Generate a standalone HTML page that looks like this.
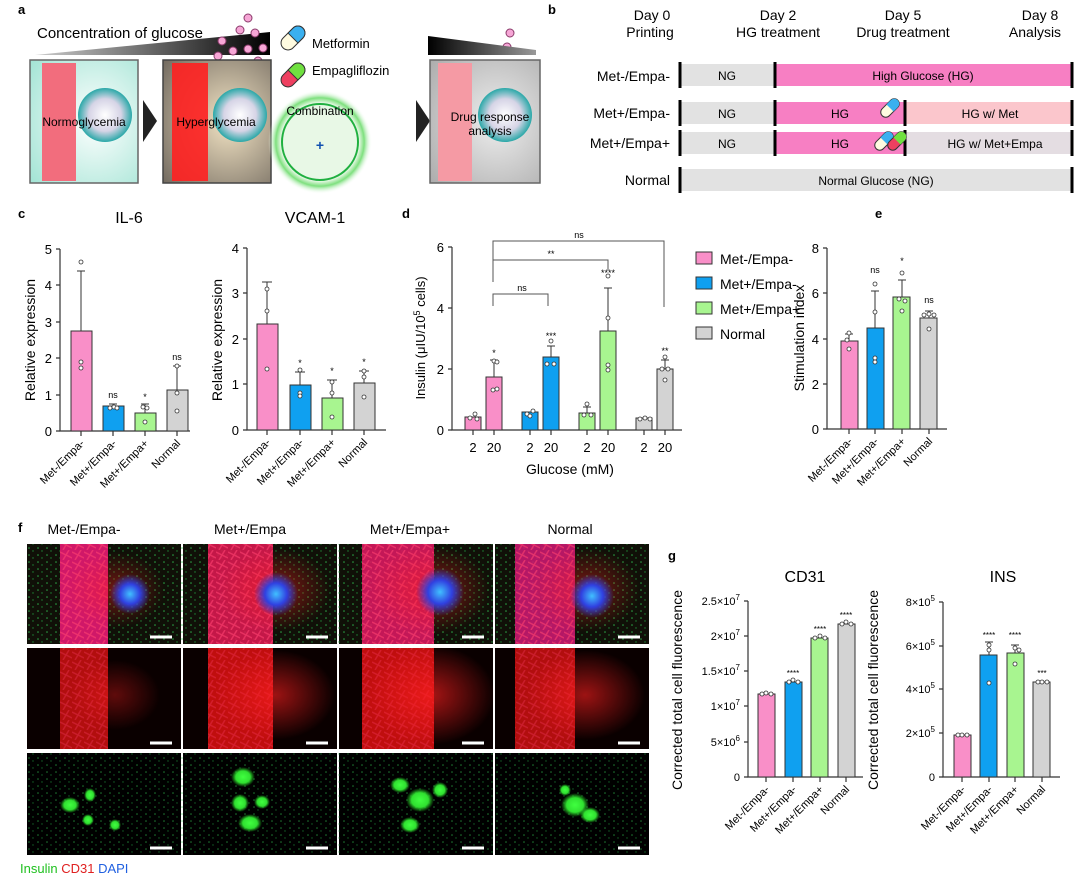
<!DOCTYPE html>
<html><head><meta charset="utf-8"><style>body{margin:0;background:#fff}svg{display:block;font-family:"Liberation Sans",Arial,sans-serif}</style></head><body>
<svg width="1080" height="885" viewBox="0 0 1080 885" xmlns="http://www.w3.org/2000/svg">
<defs>
<linearGradient id="wedge" x1="0" x2="1"><stop offset="0" stop-color="#ccc"/><stop offset="1" stop-color="#000"/></linearGradient>
<linearGradient id="wedgeR" x1="0" x2="1"><stop offset="0" stop-color="#000"/><stop offset="1" stop-color="#999"/></linearGradient>
<radialGradient id="teal" cx="0.6" cy="0.5" r="0.8"><stop offset="0" stop-color="#fff"/><stop offset="1" stop-color="#9fe3d3"/></radialGradient>
<radialGradient id="hyp" cx="0.6" cy="0.5" r="0.8"><stop offset="0" stop-color="#f3e4c4"/><stop offset="1" stop-color="#6e665c"/></radialGradient>
<radialGradient id="gray" cx="0.6" cy="0.5" r="0.8"><stop offset="0" stop-color="#eee"/><stop offset="1" stop-color="#aaa"/></radialGradient>
<radialGradient id="glow"><stop offset="0.75" stop-color="#e8f8e6"/><stop offset="0.85" stop-color="#7ee07e"/><stop offset="1" stop-color="#fff" stop-opacity="0"/></radialGradient>
<radialGradient id="islet"><stop offset="0" stop-color="#fff"/><stop offset="0.6" stop-color="#d6d4e6"/><stop offset="1" stop-color="#2aa8a8"/></radialGradient>
<radialGradient id="blueb"><stop offset="0" stop-color="#40c0ff"/><stop offset="0.5" stop-color="#3040e0"/><stop offset="1" stop-color="#3040d0" stop-opacity="0"/></radialGradient>
<radialGradient id="redb"><stop offset="0" stop-color="#ff2020"/><stop offset="1" stop-color="#ff2020" stop-opacity="0"/></radialGradient>
<radialGradient id="greenb"><stop offset="0" stop-color="#40ff40"/><stop offset="0.6" stop-color="#30e030"/><stop offset="1" stop-color="#20c020" stop-opacity="0"/></radialGradient>
<pattern id="gdots" width="9" height="7" patternUnits="userSpaceOnUse"><circle cx="2" cy="2" r="0.8" fill="#3c5"/><circle cx="6" cy="5" r="0.7" fill="#2a4"/></pattern>
<pattern id="rtex" width="12" height="10" patternUnits="userSpaceOnUse"><path d="M0,2 L12,8 M3,10 L9,0" stroke="#ff4070" stroke-width="1.5" opacity="0.6"/></pattern>
</defs>

<!-- Panel a -->
<text x="18" y="14" font-size="13" font-weight="bold">a</text>
<polygon points="35,55 270,32 270,55" fill="url(#wedge)"/>
<text x="37" y="38" font-size="15">Concentration of glucose</text>
<g fill="#f6a6d6" stroke="#8a3a6a" stroke-width="1">
<circle cx="248" cy="18" r="4"/><circle cx="240" cy="30" r="4"/><circle cx="255" cy="33" r="4"/><circle cx="222" cy="41" r="4"/><circle cx="233" cy="51" r="4"/><circle cx="248" cy="49" r="4"/><circle cx="218" cy="56" r="4"/><circle cx="263" cy="48" r="4"/><circle cx="258" cy="61" r="4"/>
<circle cx="510" cy="33" r="4"/><circle cx="507" cy="47" r="4"/>
</g>
<rect x="30" y="60" width="108" height="123" fill="url(#teal)" stroke="#666" stroke-width="1.5"/>
<rect x="42" y="63" width="34" height="118" fill="#f26d7d"/>
<circle cx="105" cy="115" r="27" fill="url(#islet)"/>
<text x="84" y="126" font-size="12" text-anchor="middle">Normoglycemia</text>
<polygon points="143,100 157,121 143,142" fill="#222"/>
<rect x="163" y="60" width="108" height="123" fill="url(#hyp)" stroke="#444" stroke-width="1.5"/>
<rect x="172" y="63" width="36" height="118" fill="#ff2020" opacity="0.9"/>
<circle cx="240" cy="115" r="27" fill="url(#islet)"/>
<text x="216" y="126" font-size="12" text-anchor="middle">Hyperglycemia</text>
<g transform="translate(293,38) rotate(-45)"><rect x="-14" y="-7" width="28" height="14" rx="7" fill="#fffbe0" stroke="#333"/><path d="M0,-7 H7 A7,7 0 0 1 7,7 H0Z" fill="#3ab0f0" stroke="#333"/></g>
<text x="312" y="48" font-size="13">Metformin</text>
<g transform="translate(293,75) rotate(-45)"><rect x="-14" y="-7" width="28" height="14" rx="7" fill="#ee4060" stroke="#333"/><path d="M0,-7 H7 A7,7 0 0 1 7,7 H0Z" fill="#70e040" stroke="#333"/></g>
<text x="312" y="75" font-size="13">Empagliflozin</text>
<circle cx="320" cy="142" r="52" fill="url(#glow)"/>
<circle cx="320" cy="142" r="38" fill="#e8f8e6" stroke="#20b040" stroke-width="2"/>
<text x="320" y="115" font-size="12" text-anchor="middle">Combination</text>
<text x="320" y="150" font-size="14" fill="#1050b0" text-anchor="middle" font-weight="bold">+</text>
<polygon points="416,100 430,121 416,142" fill="#222"/>
<polygon points="428,36 536,50 536,55 428,55" fill="url(#wedgeR)"/>
<rect x="430" y="60" width="110" height="123" fill="url(#gray)" stroke="#666" stroke-width="1.5"/>
<rect x="438" y="63" width="34" height="118" fill="#f59aa4"/>
<circle cx="505" cy="115" r="27" fill="url(#islet)"/>
<text x="490" y="121" font-size="12" text-anchor="middle">Drug response</text>
<text x="490" y="135" font-size="12" text-anchor="middle">analysis</text>

<!-- Panel b -->
<text x="548" y="14" font-size="13" font-weight="bold">b</text>
<g font-size="14" text-anchor="middle">
<text x="652" y="20">Day 0</text><text x="650" y="37">Printing</text>
<text x="778" y="20">Day 2</text><text x="778" y="37">HG treatment</text>
<text x="903" y="20">Day 5</text><text x="903" y="37">Drug treatment</text>
<text x="1040" y="20">Day 8</text><text x="1035" y="37">Analysis</text>
</g>
<g font-size="14" text-anchor="end">
<text x="670" y="81">Met-/Empa-</text><text x="670" y="118">Met+/Empa-</text><text x="670" y="148">Met+/Empa+</text><text x="670" y="185">Normal</text>
</g>
<rect x="680" y="64" width="95" height="22" fill="#e2e2e2"/><rect x="775" y="64" width="297" height="22" fill="#f77fc3"/>
<rect x="680" y="102" width="95" height="22" fill="#e2e2e2"/><rect x="775" y="102" width="130" height="22" fill="#f77fc3"/><rect x="905" y="102" width="167" height="22" fill="#fbc6cc"/>
<rect x="680" y="132" width="95" height="22" fill="#e2e2e2"/><rect x="775" y="132" width="130" height="22" fill="#f77fc3"/><rect x="905" y="132" width="167" height="22" fill="#e4dde2"/>
<rect x="680" y="169" width="392" height="22" fill="#e2e2e2"/>
<g stroke="#000" stroke-width="3">
<line x1="680" y1="62" x2="680" y2="88"/><line x1="775" y1="62" x2="775" y2="88"/><line x1="1072" y1="62" x2="1072" y2="88"/>
<line x1="680" y1="100" x2="680" y2="126"/><line x1="775" y1="100" x2="775" y2="126"/><line x1="905" y1="100" x2="905" y2="126"/><line x1="1072" y1="100" x2="1072" y2="126"/>
<line x1="680" y1="130" x2="680" y2="156"/><line x1="775" y1="130" x2="775" y2="156"/><line x1="905" y1="130" x2="905" y2="156"/><line x1="1072" y1="130" x2="1072" y2="156"/>
<line x1="680" y1="167" x2="680" y2="193"/><line x1="1072" y1="167" x2="1072" y2="193"/>
</g>
<g font-size="12" text-anchor="middle">
<text x="727" y="80">NG</text><text x="923" y="80">High Glucose (HG)</text>
<text x="727" y="118">NG</text><text x="840" y="118">HG</text><text x="990" y="118">HG w/ Met</text>
<text x="727" y="148">NG</text><text x="840" y="148">HG</text><text x="995" y="148">HG w/ Met+Empa</text>
<text x="876" y="185">Normal Glucose (NG)</text>
</g>
<g transform="translate(890,108) rotate(-45)"><rect x="-11" y="-5" width="22" height="10" rx="5" fill="#fffbe0" stroke="#333"/><path d="M0,-5 H6 A5,5 0 0 1 6,5 H0Z" fill="#3ab0f0"/></g>
<g transform="translate(884,141) rotate(-45)"><rect x="-11" y="-5" width="22" height="10" rx="5" fill="#fffbe0" stroke="#333"/><path d="M0,-5 H6 A5,5 0 0 1 6,5 H0Z" fill="#3ab0f0"/></g>
<g transform="translate(897,141) rotate(-45)"><rect x="-11" y="-5" width="22" height="10" rx="5" fill="#ee4060" stroke="#333"/><path d="M0,-5 H6 A5,5 0 0 1 6,5 H0Z" fill="#70e040"/></g>

<!-- Panel c -->
<text x="18" y="218" font-size="13" font-weight="bold">c</text>
<text x="129" y="223" font-size="16" text-anchor="middle">IL-6</text>
<text x="315" y="223" font-size="16" text-anchor="middle">VCAM-1</text>
<g stroke="#333" stroke-width="1.2" fill="none">
<path d="M60,249 V431 H190"/>
<path d="M56,249H60M56,285H60M56,322H60M56,358H60M56,395H60M56,431H60"/>
<path d="M81,431v5M113,431v5M145,431v5M177,431v5"/>
<path d="M247,248 V430 H386"/>
<path d="M243,248H247M243,293H247M243,339H247M243,384H247M243,430H247"/>
<path d="M267,430v5M300,430v5M332,430v5M364,430v5"/>
</g>
<g font-size="13" text-anchor="end"><text x="52" y="254">5</text><text x="52" y="290">4</text><text x="52" y="327">3</text><text x="52" y="363">2</text><text x="52" y="400">1</text><text x="52" y="436">0</text>
<text x="239" y="253">4</text><text x="239" y="298">3</text><text x="239" y="344">2</text><text x="239" y="389">1</text><text x="239" y="435">0</text></g>
<text transform="translate(35,340) rotate(-90)" font-size="14" text-anchor="middle">Relative expression</text>
<text transform="translate(222,340) rotate(-90)" font-size="14" text-anchor="middle">Relative expression</text>
<g stroke="#333" stroke-width="1">
<rect x="71" y="331" width="21" height="100" fill="#f98fc8"/><rect x="103" y="406" width="21" height="25" fill="#0fa0f0"/><rect x="135" y="413" width="21" height="18" fill="#a8f590"/><rect x="167" y="390" width="21" height="41" fill="#d3d3d3"/>
<path d="M81,331V271M77,271H85M113,406V404M109,404H117M145,413V404M141,404H149M177,390V366M173,366H181" fill="none"/>
<rect x="257" y="324" width="21" height="106" fill="#f98fc8"/><rect x="290" y="385" width="21" height="45" fill="#0fa0f0"/><rect x="322" y="398" width="21" height="32" fill="#a8f590"/><rect x="354" y="383" width="21" height="47" fill="#d3d3d3"/>
<path d="M267,324V282M262,282H272M300,385V372M295,372H305M332,398V380M327,380H337M364,383V371M359,371H369" fill="none"/>
</g>
<g fill="#fff" stroke="#333" stroke-width="0.8">
<circle cx="81" cy="262" r="2"/><circle cx="81" cy="362" r="2"/><circle cx="81" cy="368" r="2"/>
<circle cx="110" cy="408" r="2"/><circle cx="114" cy="407" r="2"/><circle cx="117" cy="408" r="2"/>
<circle cx="143" cy="407" r="2"/><circle cx="147" cy="408" r="2"/><circle cx="145" cy="422" r="2"/>
<circle cx="177" cy="366" r="2"/><circle cx="177" cy="393" r="2"/><circle cx="177" cy="411" r="2"/>
<circle cx="267" cy="289" r="2"/><circle cx="267" cy="311" r="2"/><circle cx="267" cy="369" r="2"/>
<circle cx="300" cy="370" r="2"/><circle cx="300" cy="393" r="2"/><circle cx="300" cy="396" r="2"/>
<circle cx="332" cy="382" r="2"/><circle cx="332" cy="393" r="2"/><circle cx="332" cy="417" r="2"/>
<circle cx="364" cy="371" r="2"/><circle cx="364" cy="377" r="2"/><circle cx="364" cy="397" r="2"/>
</g>
<g font-size="9" text-anchor="middle"><text x="113" y="398">ns</text><text x="145" y="400">*</text><text x="177" y="360">ns</text><text x="300" y="366">*</text><text x="332" y="374">*</text><text x="364" y="365">*</text></g>
<g font-size="11" text-anchor="end">
<text transform="translate(85,444) rotate(-45)">Met-/Empa-</text><text transform="translate(117,444) rotate(-45)">Met+/Empa-</text><text transform="translate(149,444) rotate(-45)">Met+/Empa+</text><text transform="translate(181,444) rotate(-45)">Normal</text>
<text transform="translate(271,443) rotate(-45)">Met-/Empa-</text><text transform="translate(304,443) rotate(-45)">Met+/Empa-</text><text transform="translate(336,443) rotate(-45)">Met+/Empa+</text><text transform="translate(368,443) rotate(-45)">Normal</text>
</g>

<!-- Panel d -->
<text x="402" y="218" font-size="13" font-weight="bold">d</text>
<g stroke="#333" stroke-width="1.2" fill="none">
<path d="M452,247V430H682"/><path d="M448,247H452M448,308H452M448,369H452M448,430H452"/>
<path d="M473,430v5M494,430v5M530,430v5M551,430v5M587,430v5M608,430v5M644,430v5M665,430v5"/>
</g>
<g font-size="13" text-anchor="end"><text x="444" y="252">6</text><text x="444" y="313">4</text><text x="444" y="374">2</text><text x="444" y="435">0</text></g>
<text transform="translate(425,338) rotate(-90)" font-size="13" text-anchor="middle">Insulin (μIU/10<tspan dy="-5" font-size="9">5</tspan><tspan dy="5"> cells)</tspan></text>
<g stroke="#333" stroke-width="1">
<rect x="465" y="417" width="16" height="13" fill="#f98fc8"/><rect x="486" y="377" width="16" height="53" fill="#f98fc8"/>
<rect x="522" y="412" width="16" height="18" fill="#0fa0f0"/><rect x="543" y="357" width="16" height="73" fill="#0fa0f0"/>
<rect x="579" y="413" width="16" height="17" fill="#a8f590"/><rect x="600" y="331" width="16" height="99" fill="#a8f590"/>
<rect x="636" y="418" width="16" height="12" fill="#d3d3d3"/><rect x="657" y="369" width="16" height="61" fill="#d3d3d3"/>
<path d="M494,377V360M490,360H498M551,357V346M547,346H555M587,413V407M583,407H591M608,331V288M604,288H612M665,369V360M661,360H669" fill="none"/>
<path d="M493,273V241H664V307M493,282V260H608V270M493,306V294H548V306" fill="none" stroke="#555"/>
</g>
<g fill="#fff" stroke="#333" stroke-width="0.8">
<circle cx="470" cy="418" r="2"/><circle cx="475" cy="414" r="2"/><circle cx="477" cy="419" r="2"/><circle cx="494" cy="361" r="2"/><circle cx="497" cy="362" r="2"/><circle cx="493" cy="390" r="2"/><circle cx="497" cy="389" r="2"/>
<circle cx="527" cy="414" r="2"/><circle cx="533" cy="411" r="2"/><circle cx="530" cy="416" r="2"/><circle cx="551" cy="341" r="2"/><circle cx="547" cy="364" r="2"/><circle cx="554" cy="364" r="2"/>
<circle cx="587" cy="404" r="2"/><circle cx="584" cy="415" r="2"/><circle cx="591" cy="415" r="2"/><circle cx="608" cy="276" r="2"/><circle cx="608" cy="318" r="2"/><circle cx="608" cy="365" r="2"/><circle cx="608" cy="370" r="2"/>
<circle cx="640" cy="419" r="2"/><circle cx="645" cy="418" r="2"/><circle cx="650" cy="419" r="2"/><circle cx="665" cy="357" r="2"/><circle cx="662" cy="369" r="2"/><circle cx="668" cy="369" r="2"/><circle cx="665" cy="380" r="2"/>
</g>
<g font-size="9" text-anchor="middle"><text x="579" y="238">ns</text><text x="551" y="257">**</text><text x="522" y="291">ns</text><text x="494" y="356">*</text><text x="551" y="339">***</text><text x="608" y="276">****</text><text x="665" y="354">**</text></g>
<g font-size="13" text-anchor="middle"><text x="473" y="452">2</text><text x="494" y="452">20</text><text x="530" y="452">2</text><text x="551" y="452">20</text><text x="587" y="452">2</text><text x="608" y="452">20</text><text x="644" y="452">2</text><text x="665" y="452">20</text></g>
<text x="570" y="474" font-size="14" text-anchor="middle">Glucose (mM)</text>
<g stroke="#333"><rect x="696" y="252" width="16" height="12" fill="#f98fc8"/><rect x="696" y="277" width="16" height="12" fill="#0fa0f0"/><rect x="696" y="302" width="16" height="12" fill="#a8f590"/><rect x="696" y="327" width="16" height="12" fill="#d3d3d3"/></g>
<g font-size="14"><text x="720" y="264">Met-/Empa-</text><text x="720" y="289">Met+/Empa-</text><text x="720" y="314">Met+/Empa+</text><text x="720" y="339">Normal</text></g>

<!-- Panel e -->
<text x="875" y="218" font-size="13" font-weight="bold">e</text>
<g stroke="#333" stroke-width="1.2" fill="none">
<path d="M827,248V429H947"/><path d="M823,248H827M823,293H827M823,339H827M823,384H827M823,429H827"/>
<path d="M849,429v5M875,429v5M902,429v5M929,429v5"/>
</g>
<g font-size="13" text-anchor="end"><text x="819" y="253">8</text><text x="819" y="298">6</text><text x="819" y="344">4</text><text x="819" y="389">2</text><text x="819" y="434">0</text></g>
<text transform="translate(804,338) rotate(-90)" font-size="14" text-anchor="middle">Stimulation index</text>
<g stroke="#333" stroke-width="1">
<rect x="841" y="341" width="17" height="88" fill="#f98fc8"/><rect x="867" y="328" width="17" height="101" fill="#0fa0f0"/><rect x="893" y="297" width="17" height="132" fill="#a8f590"/><rect x="920" y="318" width="17" height="111" fill="#d3d3d3"/>
<path d="M849,341V334M845,334H853M875,328V291M871,291H879M902,297V280M898,280H906M929,318V311M925,311H933" fill="none"/>
</g>
<g fill="#fff" stroke="#333" stroke-width="0.8"><circle cx="849" cy="333" r="2"/><circle cx="847" cy="340" r="2"/><circle cx="849" cy="349" r="2"/><circle cx="875" cy="284" r="2"/><circle cx="875" cy="312" r="2"/><circle cx="875" cy="358" r="2"/><circle cx="875" cy="362" r="2"/><circle cx="902" cy="273" r="2"/><circle cx="899" cy="299" r="2"/><circle cx="905" cy="301" r="2"/><circle cx="902" cy="311" r="2"/><circle cx="924" cy="315" r="2"/><circle cx="929" cy="314" r="2"/><circle cx="934" cy="315" r="2"/><circle cx="929" cy="329" r="2"/></g>
<g font-size="9" text-anchor="middle"><text x="875" y="273">ns</text><text x="902" y="264">*</text><text x="929" y="303">ns</text></g>
<g font-size="11" text-anchor="end"><text transform="translate(853,442) rotate(-45)">Met-/Empa-</text><text transform="translate(879,442) rotate(-45)">Met+/Empa-</text><text transform="translate(906,442) rotate(-45)">Met+/Empa+</text><text transform="translate(933,442) rotate(-45)">Normal</text></g>

<!-- Panel f -->
<text x="18" y="532" font-size="13" font-weight="bold">f</text>
<g font-size="14" text-anchor="middle"><text x="84" y="534">Met-/Empa-</text><text x="250" y="534">Met+/Empa</text><text x="410" y="534">Met+/Empa+</text><text x="570" y="534">Normal</text></g>
<!-- row1 -->
<g>
<rect x="27" y="544" width="154" height="100" fill="#101008"/><rect x="183" y="544" width="154" height="100" fill="#101008"/><rect x="339" y="544" width="154" height="100" fill="#101008"/><rect x="495" y="544" width="154" height="100" fill="#101008"/>
<rect x="27" y="544" width="622" height="100" fill="url(#gdots)" opacity="0.8"/>
<rect x="60" y="544" width="48" height="100" fill="#d01868"/><rect x="60" y="544" width="48" height="100" fill="url(#rtex)"/>
<rect x="208" y="544" width="65" height="100" fill="#d81850" opacity="0.9"/><rect x="208" y="544" width="65" height="100" fill="url(#rtex)"/>
<rect x="362" y="544" width="72" height="100" fill="#d81860" opacity="0.9"/><rect x="362" y="544" width="72" height="100" fill="url(#rtex)"/>
<rect x="515" y="544" width="60" height="100" fill="#c81870" opacity="0.9"/><rect x="515" y="544" width="60" height="100" fill="url(#rtex)"/>
<ellipse cx="115" cy="590" rx="50" ry="38" fill="url(#redb)" opacity="0.4"/><ellipse cx="275" cy="590" rx="55" ry="42" fill="url(#redb)" opacity="0.5"/><ellipse cx="430" cy="590" rx="60" ry="45" fill="url(#redb)" opacity="0.5"/><ellipse cx="585" cy="590" rx="55" ry="42" fill="url(#redb)" opacity="0.45"/>
<circle cx="130" cy="594" r="20" fill="url(#blueb)"/><circle cx="276" cy="594" r="22" fill="url(#blueb)"/><circle cx="440" cy="592" r="24" fill="url(#blueb)"/><circle cx="592" cy="596" r="22" fill="url(#blueb)"/>
</g>
<!-- row2 -->
<g>
<rect x="27" y="648" width="154" height="101" fill="#0a0000"/><rect x="183" y="648" width="154" height="101" fill="#0a0000"/><rect x="339" y="648" width="154" height="101" fill="#0a0000"/><rect x="495" y="648" width="154" height="101" fill="#0a0000"/>
<rect x="60" y="648" width="48" height="101" fill="#d01010" opacity="0.85"/><rect x="60" y="648" width="48" height="101" fill="url(#rtex)" opacity="0.5"/>
<rect x="208" y="648" width="65" height="101" fill="#e01010" opacity="0.85"/><rect x="208" y="648" width="65" height="101" fill="url(#rtex)" opacity="0.5"/>
<rect x="362" y="648" width="72" height="101" fill="#e01010" opacity="0.85"/><rect x="362" y="648" width="72" height="101" fill="url(#rtex)" opacity="0.5"/>
<rect x="515" y="648" width="60" height="101" fill="#d01010" opacity="0.85"/><rect x="515" y="648" width="60" height="101" fill="url(#rtex)" opacity="0.5"/>
<ellipse cx="115" cy="695" rx="45" ry="35" fill="url(#redb)" opacity="0.35"/><ellipse cx="275" cy="695" rx="60" ry="45" fill="url(#redb)" opacity="0.6"/><ellipse cx="430" cy="695" rx="65" ry="50" fill="url(#redb)" opacity="0.65"/><ellipse cx="585" cy="695" rx="60" ry="45" fill="url(#redb)" opacity="0.6"/>
</g>
<!-- row3 -->
<g>
<rect x="27" y="753" width="154" height="102" fill="#000"/><rect x="183" y="753" width="154" height="102" fill="#000"/><rect x="339" y="753" width="154" height="102" fill="#000"/><rect x="495" y="753" width="154" height="102" fill="#000"/>
<rect x="27" y="753" width="622" height="102" fill="url(#gdots)" opacity="0.6"/>
<g fill="url(#greenb)">
<ellipse cx="70" cy="805" rx="10" ry="8"/><ellipse cx="90" cy="795" rx="6" ry="7"/><ellipse cx="88" cy="820" rx="6" ry="6"/><ellipse cx="115" cy="825" rx="6" ry="6"/>
<ellipse cx="243" cy="777" rx="12" ry="10"/><ellipse cx="240" cy="803" rx="9" ry="9"/><ellipse cx="262" cy="802" rx="8" ry="7"/><ellipse cx="250" cy="823" rx="12" ry="9"/>
<ellipse cx="400" cy="785" rx="10" ry="8"/><ellipse cx="420" cy="800" rx="14" ry="12"/><ellipse cx="440" cy="790" rx="8" ry="8"/><ellipse cx="410" cy="825" rx="10" ry="8"/>
<ellipse cx="575" cy="805" rx="14" ry="12"/><ellipse cx="590" cy="815" rx="10" ry="8"/><ellipse cx="565" cy="790" rx="6" ry="6"/>
</g>
</g>
<g stroke="#fff" stroke-width="3"><path d="M150,637h22M306,637h22M462,637h22M618,637h22M150,743h22M306,743h22M462,743h22M618,743h22M150,848h22M306,848h22M462,848h22M618,848h22"/></g>
<text x="20" y="873" font-size="13"><tspan fill="#20c020">Insulin</tspan> <tspan fill="#e02020">CD31</tspan> <tspan fill="#2060e0">DAPI</tspan></text>

<!-- Panel g -->
<text x="668" y="560" font-size="13" font-weight="bold">g</text>
<text x="805" y="582" font-size="16" text-anchor="middle">CD31</text>
<text x="1003" y="582" font-size="16" text-anchor="middle">INS</text>
<g stroke="#333" stroke-width="1.2" fill="none">
<path d="M748,601V777H863"/><path d="M744,601H748M744,636H748M744,671H748M744,706H748M744,742H748M744,777H748"/>
<path d="M766,777v5M793,777v5M820,777v5M846,777v5"/>
<path d="M943,602V777H1060"/><path d="M939,602H943M939,646H943M939,689H943M939,733H943M939,777H943"/>
<path d="M962,777v5M989,777v5M1015,777v5M1042,777v5"/>
</g>
<g font-size="11" text-anchor="end">
<text x="740" y="605">2.5×10<tspan dy="-5" font-size="8">7</tspan></text>
<text x="740" y="640">2×10<tspan dy="-5" font-size="8">7</tspan></text>
<text x="740" y="675">1.5×10<tspan dy="-5" font-size="8">7</tspan></text>
<text x="740" y="710">1×10<tspan dy="-5" font-size="8">7</tspan></text>
<text x="740" y="746">5×10<tspan dy="-5" font-size="8">6</tspan></text>
<text x="740" y="781">0</text>
<text x="935" y="606">8×10<tspan dy="-5" font-size="8">5</tspan></text>
<text x="935" y="650">6×10<tspan dy="-5" font-size="8">5</tspan></text>
<text x="935" y="693">4×10<tspan dy="-5" font-size="8">5</tspan></text>
<text x="935" y="737">2×10<tspan dy="-5" font-size="8">5</tspan></text>
<text x="935" y="781">0</text>
</g>
<text transform="translate(682,690) rotate(-90)" font-size="14" text-anchor="middle">Corrected total cell fluorescence</text>
<text transform="translate(878,690) rotate(-90)" font-size="14" text-anchor="middle">Corrected total cell fluorescence</text>
<g stroke="#333" stroke-width="1">
<rect x="758" y="694" width="17" height="83" fill="#f98fc8"/><rect x="785" y="682" width="17" height="95" fill="#0fa0f0"/><rect x="811" y="638" width="17" height="139" fill="#a8f590"/><rect x="838" y="624" width="17" height="153" fill="#d3d3d3"/>
<rect x="954" y="735" width="17" height="42" fill="#f98fc8"/><rect x="980" y="655" width="17" height="122" fill="#0fa0f0"/><rect x="1007" y="653" width="17" height="124" fill="#a8f590"/><rect x="1033" y="682" width="17" height="95" fill="#d3d3d3"/>
<path d="M989,655V642M985,642H993M1015,653V645M1011,645H1019" fill="none"/>
</g>
<g fill="#fff" stroke="#333" stroke-width="0.8">
<circle cx="762" cy="694" r="2"/><circle cx="766" cy="693" r="2"/><circle cx="771" cy="694" r="2"/><circle cx="789" cy="682" r="2"/><circle cx="793" cy="680" r="2"/><circle cx="798" cy="682" r="2"/><circle cx="815" cy="638" r="2"/><circle cx="820" cy="636" r="2"/><circle cx="825" cy="638" r="2"/><circle cx="842" cy="624" r="2"/><circle cx="846" cy="622" r="2"/><circle cx="851" cy="624" r="2"/>
<circle cx="958" cy="735" r="2"/><circle cx="962" cy="735" r="2"/><circle cx="967" cy="735" r="2"/><circle cx="989" cy="645" r="2"/><circle cx="989" cy="650" r="2"/><circle cx="989" cy="683" r="2"/><circle cx="1015" cy="648" r="2"/><circle cx="1019" cy="650" r="2"/><circle cx="1015" cy="664" r="2"/><circle cx="1038" cy="682" r="2"/><circle cx="1042" cy="682" r="2"/><circle cx="1047" cy="682" r="2"/>
</g>
<g font-size="8" text-anchor="middle"><text x="793" y="676">****</text><text x="820" y="632">****</text><text x="846" y="618">****</text><text x="989" y="638">****</text><text x="1015" y="638">****</text><text x="1042" y="676">***</text></g>
<g font-size="11" text-anchor="end">
<text transform="translate(770,790) rotate(-45)">Met-/Empa-</text><text transform="translate(797,790) rotate(-45)">Met+/Empa-</text><text transform="translate(824,790) rotate(-45)">Met+/Empa+</text><text transform="translate(850,790) rotate(-45)">Normal</text>
<text transform="translate(966,790) rotate(-45)">Met-/Empa-</text><text transform="translate(993,790) rotate(-45)">Met+/Empa-</text><text transform="translate(1019,790) rotate(-45)">Met+/Empa+</text><text transform="translate(1046,790) rotate(-45)">Normal</text>
</g>
</svg>
</body></html>
